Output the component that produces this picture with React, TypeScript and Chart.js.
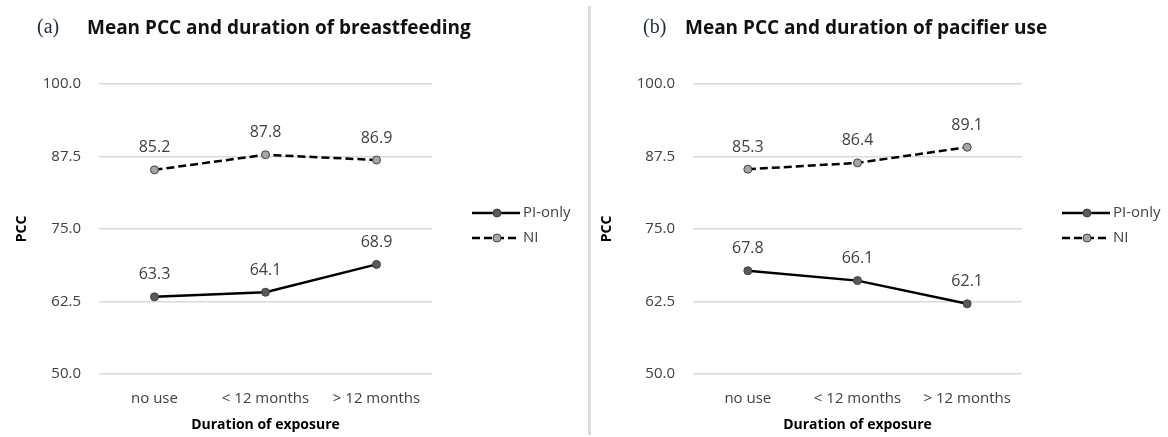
import React, { useEffect, useRef } from "react";
import { Chart, registerables } from "chart.js";

Chart.register(...registerables);

const categories = ["no use", "< 12 months", "> 12 months"];
const breastPI = [63.3, 64.1, 68.9];
const breastNI = [85.2, 87.8, 86.9];
const pacifierPI = [67.8, 66.1, 62.1];
const pacifierNI = [85.3, 86.4, 89.1];
const yTicks = [50, 62.5, 75, 87.5, 100];
const seriesNames = ["PI-only", "NI"];

const FONT = "'Open Sans', 'DejaVu Sans', sans-serif";
const TEXT = "#404040";

type PanelProps = {
  pi: number[];
  ni: number[];
  width: number;
  yAxisWidth: number;
  rightPad: number;
  pccPad: number;
};

const labelsPlugin = {
  id: "valueLabels",
  afterDatasetsDraw(chart: any) {
    const ctx = chart.ctx;
    ctx.save();
    ctx.font = `16px ${FONT}`;
    ctx.fillStyle = TEXT;
    ctx.textAlign = "center";
    ctx.textBaseline = "middle";
    chart.data.datasets.forEach((ds: any, i: number) => {
      const meta = chart.getDatasetMeta(i);
      meta.data.forEach((pt: any, j: number) => {
        ctx.fillText(ds.data[j].toFixed(1), pt.x, pt.y - 22);
      });
    });
    ctx.restore();
  },
};

const legendPlugin = {
  id: "customLegend",
  afterDraw(chart: any) {
    const ctx = chart.ctx;
    const area = chart.chartArea;
    const x0 = area.right + 40;
    const rows = [213, 238];
    ctx.save();
    chart.data.datasets.forEach((ds: any, i: number) => {
      const y = rows[i];
      ctx.beginPath();
      ctx.strokeStyle = ds.borderColor;
      ctx.lineWidth = ds.borderWidth;
      ctx.setLineDash(ds.borderDash || []);
      ctx.moveTo(x0, y);
      ctx.lineTo(x0 + 48, y);
      ctx.stroke();
      ctx.setLineDash([]);
      ctx.beginPath();
      ctx.arc(x0 + 25, y, 4, 0, Math.PI * 2);
      ctx.fillStyle = ds.pointBackgroundColor;
      ctx.fill();
      ctx.lineWidth = 1;
      ctx.strokeStyle = ds.pointBorderColor;
      ctx.stroke();
      ctx.font = `15px ${FONT}`;
      ctx.fillStyle = TEXT;
      ctx.textAlign = "left";
      ctx.textBaseline = "middle";
      ctx.fillText(ds.label, x0 + 51, y);
    });
    ctx.restore();
  },
};

function Panel({ pi, ni, width, yAxisWidth, rightPad, pccPad }: PanelProps) {
  const ref = useRef<HTMLCanvasElement | null>(null);
  useEffect(() => {
    if (!ref.current) return;
    const chart = new Chart(ref.current, {
      type: "line",
      data: {
        labels: categories,
        datasets: [
          {
            label: seriesNames[0],
            data: pi,
            borderColor: "#000000",
            borderWidth: 2.5,
            pointRadius: 4,
            pointBackgroundColor: "#595959",
            pointBorderColor: "#404040",
            pointBorderWidth: 1,
            tension: 0,
          },
          {
            label: seriesNames[1],
            data: ni,
            borderColor: "#000000",
            borderWidth: 2.5,
            borderDash: [8, 4],
            pointRadius: 4,
            pointBackgroundColor: "#a6a6a6",
            pointBorderColor: "#404040",
            pointBorderWidth: 1,
            tension: 0,
          },
        ],
      },
      options: {
        responsive: false,
        animation: false,
        layout: { padding: { left: 0, right: rightPad, top: 84, bottom: 0 } },
        plugins: {
          legend: { display: false },
          tooltip: { enabled: false },
          title: { display: false },
        },
        scales: {
          x: {
            offset: true,
            grid: { display: false, drawTicks: false },
            border: { display: false },
            ticks: {
              padding: 16,
              color: TEXT,
              font: { family: FONT, size: 15 },
              maxRotation: 0,
              autoSkip: false,
            },
            title: {
              display: true,
              text: "Duration of exposure",
              color: "#000",
              font: { family: FONT, size: 14, weight: "bold" },
              padding: { top: 0, bottom: 4 },
            },
            afterFit: (s: any) => {
              s.height = 63;
            },
          },
          y: {
            min: 50,
            max: 100,
            afterBuildTicks: (s: any) => {
              s.ticks = yTicks.map((v) => ({ value: v }));
            },
            grid: { color: "#d9d9d9", lineWidth: 1.5, drawTicks: false },
            border: { display: false },
            ticks: {
              padding: 18,
              color: TEXT,
              font: { family: FONT, size: 15 },
              callback: (v: any) => Number(v).toFixed(1),
            },
            title: {
              display: true,
              text: "PCC",
              color: "#000",
              font: { family: FONT, size: 14, weight: "bold" },
              padding: { top: pccPad, bottom: 0 },
            },
            afterFit: (s: any) => {
              s.width = yAxisWidth;
            },
          },
        },
      },
      plugins: [labelsPlugin, legendPlugin],
    });
    return () => chart.destroy();
  }, []);
  return <canvas ref={ref} width={width} height={437} style={{ display: "block" }} />;
}

const titleStyle: React.CSSProperties = {
  position: "absolute",
  top: 14,
  fontFamily: FONT,
  fontWeight: 700,
  fontSize: 19,
  color: "#111",
  whiteSpace: "nowrap",
  lineHeight: "26px",
};
const letterStyle: React.CSSProperties = {
  position: "absolute",
  top: 13,
  fontFamily: "'Liberation Serif', 'DejaVu Serif', serif",
  fontSize: 20,
  color: "#1f2a44",
  lineHeight: "26px",
};

export default function App() {
  return (
    <div
      style={{
        position: "absolute",
        left: 0,
        top: 0,
        width: 1168,
        height: 437,
        background: "#fff",
        overflow: "hidden",
      }}
    >
      <div style={{ position: "absolute", left: 0, top: 0 }}>
        <Panel pi={breastPI} ni={breastNI} width={588} yAxisWidth={99} rightPad={156} pccPad={14} />
      </div>
      <div style={{ position: "absolute", left: 592, top: 0 }}>
        <Panel pi={pacifierPI} ni={pacifierNI} width={576} yAxisWidth={101} rightPad={146} pccPad={7} />
      </div>
      <div
        style={{
          position: "absolute",
          left: 588,
          top: 6,
          width: 3,
          height: 429,
          background: "#dcdcdc",
        }}
      />
      <div style={{ ...letterStyle, left: 37 }}>(a)</div>
      <div style={{ ...titleStyle, left: 87 }}>Mean PCC and duration of breastfeeding</div>
      <div style={{ ...letterStyle, left: 643 }}>(b)</div>
      <div style={{ ...titleStyle, left: 685 }}>Mean PCC and duration of pacifier use</div>
    </div>
  );
}
